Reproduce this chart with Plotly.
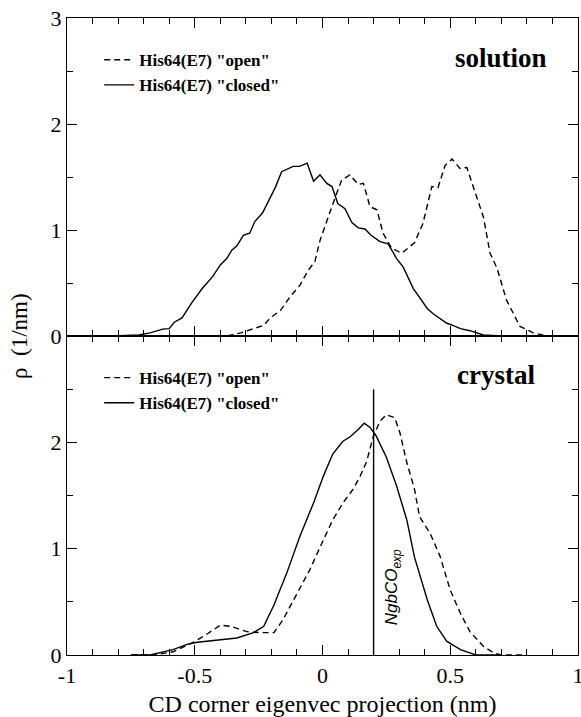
import plotly.graph_objects as go

# ---------------- data ----------------
sol_closed_x = [-0.82, -0.72, -0.675, -0.625, -0.60, -0.58, -0.55, -0.51, -0.47, -0.43, -0.40, -0.375, -0.355,
                -0.335, -0.31, -0.285, -0.265, -0.235, -0.21, -0.185, -0.16, -0.14, -0.115, -0.09, -0.06,
                -0.035, -0.01, 0.017, 0.037, 0.06, 0.088, 0.115, 0.14, 0.166, 0.19, 0.225, 0.257, 0.29,
                0.316, 0.355, 0.41, 0.433, 0.487, 0.51, 0.54, 0.577, 0.63, 0.70, 0.80]
sol_closed_y = [0.0, 0.01, 0.03, 0.065, 0.07, 0.13, 0.17, 0.32, 0.45, 0.56, 0.67, 0.73, 0.81,
                0.85, 0.95, 0.97, 1.08, 1.16, 1.28, 1.40, 1.55, 1.57, 1.60, 1.60, 1.63,
                1.46, 1.52, 1.44, 1.41, 1.25, 1.20, 1.07, 1.02, 1.01, 0.95, 0.89, 0.87, 0.73,
                0.65, 0.45, 0.26, 0.21, 0.12, 0.10, 0.07, 0.05, 0.01, 0.0, 0.0]

sol_open_x = [-0.45, -0.375, -0.32, -0.27, -0.23, -0.205, -0.165, -0.127, -0.088, -0.056, -0.03, -0.01,
              0.017, 0.05, 0.075, 0.107, 0.14, 0.16, 0.186, 0.213, 0.237, 0.27, 0.31, 0.36, 0.393,
              0.428, 0.452, 0.48, 0.507, 0.538, 0.565, 0.597, 0.63, 0.656, 0.683, 0.72, 0.773, 0.825,
              0.88, 1.0]
sol_open_y = [0.0, 0.0, 0.03, 0.07, 0.10, 0.17, 0.24, 0.37, 0.48, 0.62, 0.70, 0.90,
              1.09, 1.31, 1.47, 1.52, 1.43, 1.44, 1.22, 1.19, 0.97, 0.83, 0.78, 0.88, 1.06,
              1.41, 1.40, 1.61, 1.67, 1.58, 1.59, 1.36, 1.12, 0.78, 0.64, 0.34, 0.09, 0.03,
              0.0, 0.0]

cry_closed_x = [-0.75, -0.675, -0.585, -0.53, -0.49, -0.413, -0.335, -0.27, -0.23, -0.19, -0.14, -0.088,
                -0.035, 0.003, 0.04, 0.08, 0.107, 0.14, 0.163, 0.186, 0.21, 0.25, 0.29, 0.33, 0.36,
                0.41, 0.447, 0.486, 0.54, 0.60, 0.70]
cry_closed_y = [0.0, 0.0, 0.05, 0.10, 0.12, 0.14, 0.16, 0.21, 0.27, 0.47, 0.77, 1.12,
                1.43, 1.68, 1.89, 2.01, 2.05, 2.12, 2.18, 2.14, 2.06, 1.86, 1.59, 1.27, 0.92,
                0.52, 0.27, 0.13, 0.05, 0.0, 0.0]

cry_open_x = [-0.75, -0.66, -0.585, -0.505, -0.45, -0.40, -0.36, -0.296, -0.245, -0.19, -0.155, -0.10,
              -0.05, 0.003, 0.04, 0.08, 0.12, 0.147, 0.173, 0.198, 0.225, 0.25, 0.283, 0.303, 0.33,
              0.36, 0.38, 0.42, 0.46, 0.50, 0.54, 0.577, 0.63, 0.67, 0.70, 0.80]
cry_open_y = [0.0, 0.0, 0.03, 0.12, 0.20, 0.28, 0.27, 0.22, 0.21, 0.21, 0.33, 0.58,
              0.80, 1.08, 1.27, 1.43, 1.56, 1.68, 1.82, 2.05, 2.20, 2.26, 2.23, 2.09, 1.81,
              1.56, 1.30, 1.15, 0.93, 0.61, 0.39, 0.22, 0.08, 0.02, 0.0, 0.0]

exp_x = [0.2, 0.2]
exp_y = [0.0, 2.5]

x_tickvals = [-1, -0.5, 0, 0.5, 1]
x_ticktext = ["-1", "-0.5", "0", "0.5", "1"]

lbl_open = '<b>His64(E7) "open"</b>'
lbl_closed = '<b>His64(E7) "closed"</b>'

SERIF = '"Liberation Serif", "Times New Roman", Times, "DejaVu Serif", serif'

fig = go.Figure()
# top panel (solution)
fig.add_trace(go.Scatter(x=sol_open_x, y=sol_open_y, mode="lines", name=lbl_open,
                         line=dict(color="black", width=1.4, dash="6px,4px"),
                         xaxis="x", yaxis="y", legend="legend"))
fig.add_trace(go.Scatter(x=sol_closed_x, y=sol_closed_y, mode="lines", name=lbl_closed,
                         line=dict(color="black", width=1.4),
                         xaxis="x", yaxis="y", legend="legend"))
# bottom panel (crystal)
fig.add_trace(go.Scatter(x=cry_open_x, y=cry_open_y, mode="lines", name=lbl_open,
                         line=dict(color="black", width=1.4, dash="6px,4px"),
                         xaxis="x2", yaxis="y2", legend="legend2"))
fig.add_trace(go.Scatter(x=cry_closed_x, y=cry_closed_y, mode="lines", name=lbl_closed,
                         line=dict(color="black", width=1.4),
                         xaxis="x2", yaxis="y2", legend="legend2"))
fig.add_trace(go.Scatter(x=exp_x, y=exp_y, mode="lines", showlegend=False,
                         line=dict(color="black", width=1.4),
                         xaxis="x2", yaxis="y2"))

split = (655 - 336) / 637

axis_common = dict(showline=True, linecolor="black", linewidth=1.2, mirror="allticks",
                   ticks="inside", ticklen=10, tickwidth=1, tickcolor="black",
                   showgrid=False, zeroline=False, automargin=False,
                   tickfont=dict(family=SERIF, size=22, color="black"))

legend_font = dict(family=SERIF, size=17, color="black")

fig.update_layout(
    width=581, height=717,
    margin=dict(l=67, r=3, t=18, b=62, autoexpand=False),
    paper_bgcolor="white", plot_bgcolor="white",
    font=dict(family=SERIF, color="black"),
    xaxis=dict(domain=[0, 1], anchor="y", range=[-1, 1], tickvals=x_tickvals,
               showticklabels=False, matches="x2",
               minor=dict(ticks="inside", dtick=0.1, tick0=0, ticklen=6, tickcolor="black"),
               **axis_common),
    yaxis=dict(domain=[split, 1], anchor="x", range=[0, 3], tickvals=[0, 1, 2, 3],
               minor=dict(ticks="inside", dtick=0.5, tick0=0, ticklen=6, tickcolor="black"),
               **axis_common),
    xaxis2=dict(domain=[0, 1], anchor="y2", range=[-1, 1], tickvals=x_tickvals,
                ticktext=x_ticktext, ticklabeloverflow="allow",
                minor=dict(ticks="inside", dtick=0.1, tick0=0, ticklen=6, tickcolor="black"),
                title=dict(text="CD corner eigenvec projection (nm)", standoff=8,
                           font=dict(family=SERIF, size=24, color="black")),
                **axis_common),
    yaxis2=dict(domain=[0, split], anchor="x2", range=[0, 3], tickvals=[0, 1, 2],
                minor=dict(ticks="inside", dtick=0.5, tick0=0, ticklen=6, tickcolor="black"),
                **axis_common),
    legend=dict(x=0.063, y=0.962, xanchor="left", yanchor="top", bgcolor="rgba(0,0,0,0)",
                font=legend_font, tracegroupgap=0, itemwidth=30),
    legend2=dict(x=0.063, y=0.463, xanchor="left", yanchor="top", bgcolor="rgba(0,0,0,0)",
                 font=legend_font, tracegroupgap=0, itemwidth=30),
    showlegend=True,
)

fig.add_annotation(text="<b>solution</b>", xref="paper", yref="paper", x=0.943, y=(655 - 58) / 637,
                   xanchor="right", yanchor="middle", showarrow=False,
                   font=dict(family=SERIF, size=27, color="black"))
fig.add_annotation(text="<b>crystal</b>", xref="paper", yref="paper", x=0.919, y=(655 - 375) / 637,
                   xanchor="right", yanchor="middle", showarrow=False,
                   font=dict(family=SERIF, size=27, color="black"))
fig.add_annotation(text="<i>NgbCO<sub>exp</sub></i>", xref="x2", yref="y2", x=0.277, y=0.64,
                   textangle=-90, showarrow=False,
                   font=dict(family="Liberation Sans", size=17, color="black"))
fig.add_annotation(text="ρ  (1/nm)", xref="paper", yref="paper", x=-0.094, y=split,
                   xanchor="center", yanchor="middle", textangle=-90, showarrow=False,
                   font=dict(family=SERIF, size=23, color="black"))

fig.write_html("out.html")
